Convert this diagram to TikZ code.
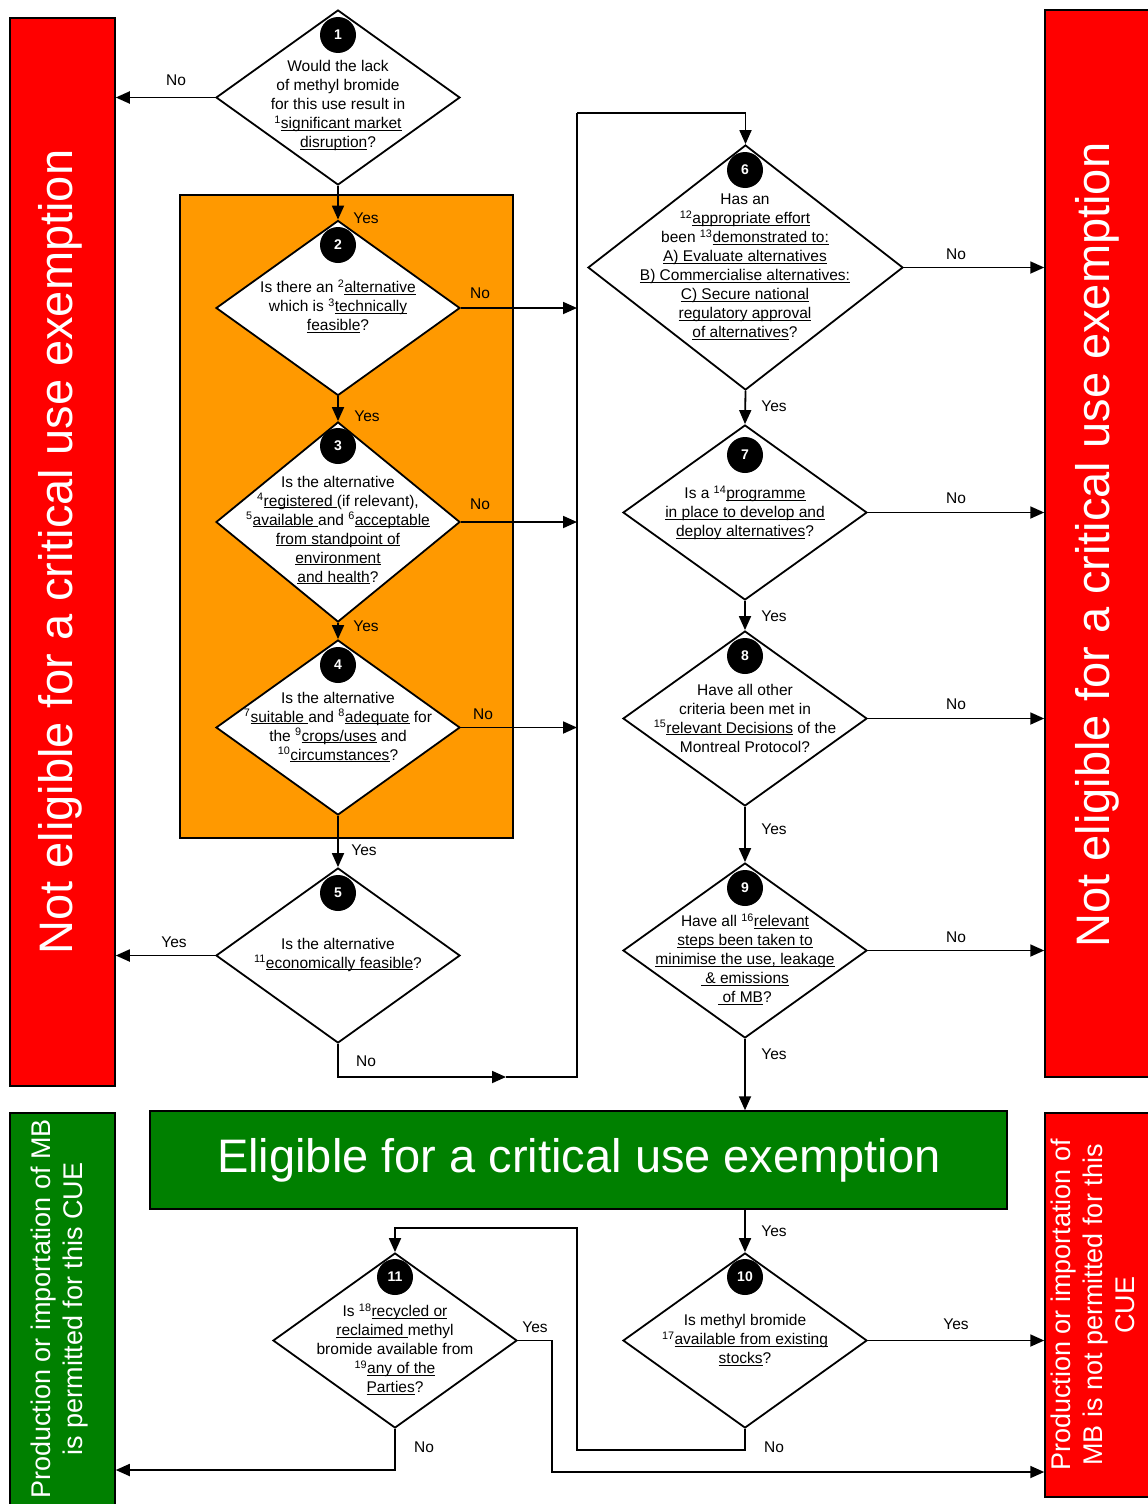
\documentclass[tikz,border=0pt]{standalone}
\usepackage{fontspec}
\setmainfont{Liberation Sans}
\usetikzlibrary{shapes.geometric,arrows.meta}

\definecolor{cueRed}{RGB}{255,0,0}
\definecolor{cueGreen}{RGB}{0,128,0}
\definecolor{cueOrange}{RGB}{255,153,0}

\newcommand{\und}[1]{\underline{\smash{#1}}}
\newcommand{\fn}[1]{\textsuperscript{#1}}

\begin{document}
\begin{tikzpicture}[x=1pt,y=-1pt,
        flow/.style={line width=1.8pt,-{Triangle[length=14pt,width=12pt]}},
        lbl/.style={font=\fontsize{15.5}{19}\selectfont,inner sep=0pt},
        qtext/.style={align=center,font=\fontsize{15.5}{19}\selectfont,inner sep=0pt},
        bigtext/.style={font=\fontsize{47}{56}\selectfont,text=white}]
    \useasboundingbox (0,0) rectangle (1148,1504);

    % outcome boxes
    \begin{scope}[every node/.style={draw=black,line width=1.5pt,rectangle,inner sep=0pt}]
        \node[fill=cueRed,minimum width=105pt,minimum height=1068pt] (nl) at (62.5,552) {};
        \node[fill=cueRed,minimum width=104pt,minimum height=1067pt] (nr) at (1097,543.5) {};
        \node[fill=cueGreen,minimum width=857pt,minimum height=98pt] (elig) at (578.5,1160) {};
        \node[fill=cueGreen,minimum width=105pt,minimum height=394pt] (permit) at (62.5,1310) {};
        \node[fill=cueRed,minimum width=104pt,minimum height=384pt] (notperm) at (1097,1305) {};
        \node[fill=cueOrange,minimum width=333pt,minimum height=643pt] (grp) at (346.5,516.5) {};
    \end{scope}
    \node[bigtext] (tnl) at (60,552) {\rotatebox{90}{Not eligible for a critical use exemption}};
    \node[bigtext] (tnr) at (1097,545) {\rotatebox{90}{Not eligible for a critical use exemption}};
    \node[bigtext] (telig) at (579,1160) {Eligible for a critical use exemption};
    \node[text=white,font=\fontsize{27}{32}\selectfont] (tpermit) at (60,1309)
        {\rotatebox{90}{\begin{tabular}{@{}c@{}}Production or importation of MB\\ is permitted for this CUE\end{tabular}}};
    \node[text=white,font=\fontsize{27}{32}\selectfont] (tnotperm) at (1096,1305)
        {\rotatebox{90}{\begin{tabular}{@{}c@{}}Production or importation of\\ MB is not permitted for this\\ CUE\end{tabular}}};

    % decisions
    \begin{scope}[every node/.style={diamond,draw=black,fill=white,line width=1.8pt,inner sep=0pt,
                  minimum width=244pt,minimum height=175pt}]
        \node (d1) at (338,97.5) {};
        \node (d2) at (338,308) {};
        \node[minimum height=200pt] (d3) at (338,522) {};
        \node (d4) at (338,727.5) {};
        \node (d5) at (338,955.5) {};
        \node[minimum width=315pt,minimum height=245pt] (d6) at (745.5,267.5) {};
        \node (d7) at (745,512.5) {};
        \node (d8) at (745,718.5) {};
        \node (d9) at (745,950.5) {};
        \node (d10) at (745,1340.5) {};
        \node (d11) at (395,1340.5) {};
    \end{scope}
    \begin{scope}[every node/.style={circle,fill=black,minimum size=36pt,inner sep=0pt,
                  text=white,font=\fontsize{14}{16}\selectfont\bfseries}]
        \node (c1) at (338,35) {1};
        \node (c2) at (338,245) {2};
        \node (c3) at (338,446) {3};
        \node (c4) at (338,665) {4};
        \node (c5) at (338,893) {5};
        \node (c6) at (745,170) {6};
        \node (c7) at (745,455) {7};
        \node (c8) at (745,656) {8};
        \node (c9) at (745,888) {9};
        \node (c10) at (745,1277) {10};
        \node (c11) at (395,1277) {11};
    \end{scope}

    % questions
    \node[qtext] (q1) at (338,105) {Would the lack\\ of methyl bromide\\ for this use result in\\
        \fn{1}\und{significant market}\\ \und{disruption}?};
    \node[qtext] (q2) at (338,306) {Is there an \fn{2}\und{alternative}\\ which is \fn{3}\und{technically}\\
        \und{feasible}?};
    \node[qtext] (q3) at (338,530) {Is the alternative\\ \fn{4}\und{registered }(if relevant),\\
        \fn{5}\und{available }and \fn{6}\und{acceptable}\\ \und{from standpoint of}\\
        \und{environment}\\ \und{and health}?};
    \node[qtext] (q4) at (338,727) {Is the alternative\\ \fn{7}\und{suitable }and \fn{8}\und{adequate} for\\
        the \fn{9}\und{crops/uses} and\\ \fn{10}\und{circumstances}?};
    \node[qtext] (q5) at (338,954) {Is the alternative\\ \fn{11}\und{economically feasible}?};
    \node[qtext] (q6) at (745,267) {Has an\\ \fn{12}\und{appropriate effort}\\ been \fn{13}\und{demonstrated to:}\\
        \und{A) Evaluate alternatives}\\ \und{B) Commercialise alternatives:}\\
        \und{C) Secure national}\\ \und{regulatory approval}\\ \und{of alternatives}?};
    \node[qtext] (q7) at (745,512) {Is a \fn{14}\und{programme}\\ \und{in place to develop and}\\
        \und{deploy alternatives}?};
    \node[qtext] (q8) at (745,718) {Have all other\\ criteria been met in\\
        \fn{15}\und{relevant Decisions} of the\\ Montreal Protocol?};
    \node[qtext] (q9) at (745,959) {Have all \fn{16}\und{relevant}\\ \und{steps been taken to}\\
        \und{minimise the use, leakage}\\ \und{ \& emissions}\\ \und{ of MB}?};
    \node[qtext] (q10) at (745,1340) {Is methyl bromide\\ \fn{17}\und{available from existing}\\
        \und{stocks}?};
    \node[qtext] (q11) at (395,1349) {Is \fn{18}\und{recycled or}\\ \und{reclaimed }methyl\\
        bromide available from\\ \fn{19}\und{any of the}\\ \und{Parties}?};

    % bends
    \coordinate (bt) at (577,113);
    \coordinate (bb) at (577,1077);
    \coordinate (m5) at (506,1077);
    \coordinate (r10) at (577,1450);
    \coordinate (r11) at (577,1228);
    \coordinate (y11) at (552,1472);
    \coordinate (n11) at (395,1470);

    % connectors
    \begin{scope}[every edge/.style={draw,flow}]
        \path (d1.west) edge (d1.west -| nl.east);
        \path (d1.south) edge (d2.north);
        \path (d2.south) edge (d3.north);
        \path (d3.south) edge (d4.north);
        \path (d4.south) edge (d5.north);
        \path (d2.east) edge (d2.east -| bb);
        \path (d3.east) edge (d3.east -| bb);
        \path (d4.east) edge (d4.east -| bb);
        \path (d5.west) edge (d5.west -| nl.east);
        \path (d6.south) edge (d7.north);
        \path (d7.south) edge (d8.north);
        \path (d8.south) edge (d9.north);
        \path (d6.east) edge (d6.east -| nr.west);
        \path (d7.east) edge (d7.east -| nr.west);
        \path (d8.east) edge (d8.east -| nr.west);
        \path (d9.east) edge (d9.east -| nr.west);
        \path (d9.south) edge (d9.south |- elig.north);
        \path (d10.north |- elig.south) edge (d10.north);
        \path (d10.east) edge (d10.east -| notperm.west);
    \end{scope}
    \draw[flow] (d5.south) |- (m5);
    \draw[line width=1.8pt] (m5) -- (bb) -- (bt);
    \draw[flow] (bt) -| (d6.north);
    \draw[flow] (d10.south) |- (r10) -- (r11) -| (d11.north);
    \draw[flow] (d11.east) -| (y11) -- (y11 -| notperm.west);
    \draw[flow] (d11.south) -- (n11) -- (n11 -| permit.east);

    % answers
    \node[lbl] (a1) at (176,80) {No};
    \node[lbl] (a2) at (366,218) {Yes};
    \node[lbl] (a3) at (480,293) {No};
    \node[lbl] (a4) at (367,416) {Yes};
    \node[lbl] (a5) at (480,504) {No};
    \node[lbl] (a6) at (366,626) {Yes};
    \node[lbl] (a7) at (483,714) {No};
    \node[lbl] (a8) at (364,850) {Yes};
    \node[lbl] (a9) at (174,942) {Yes};
    \node[lbl] (a10) at (366,1061) {No};
    \node[lbl] (a11) at (956,254) {No};
    \node[lbl] (a12) at (774,406) {Yes};
    \node[lbl] (a13) at (956,498) {No};
    \node[lbl] (a14) at (774,616) {Yes};
    \node[lbl] (a15) at (956,704) {No};
    \node[lbl] (a16) at (774,829) {Yes};
    \node[lbl] (a17) at (956,937) {No};
    \node[lbl] (a18) at (774,1054) {Yes};
    \node[lbl] (a19) at (774,1231) {Yes};
    \node[lbl] (a20) at (956,1324) {Yes};
    \node[lbl] (a21) at (774,1447) {No};
    \node[lbl] (a22) at (535,1327) {Yes};
    \node[lbl] (a23) at (424,1447) {No};
\end{tikzpicture}
\end{document}
